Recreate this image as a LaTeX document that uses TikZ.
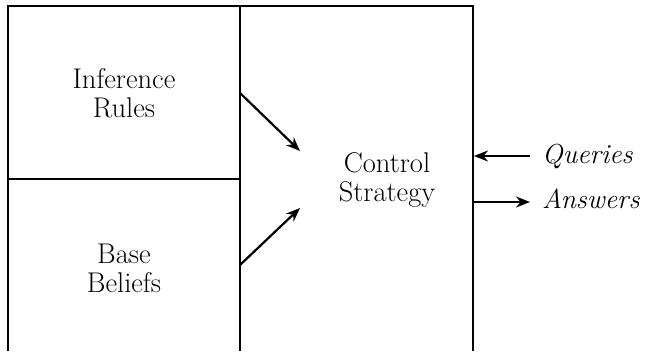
\documentclass[tikz,border=0pt]{standalone}
\usepackage{amsmath,amssymb}
\usepackage{fontspec}
\usepackage{tikz}
\usetikzlibrary{arrows.meta}
\usepackage{xcolor}

\begin{document}
\begin{tikzpicture}[x=1pt,y=-1pt,>={Stealth[length=14pt,width=11pt]},
  lbl/.style={align=center,inner sep=0pt,font=\fontsize{28.5}{29}\selectfont},
  io/.style={inner sep=0pt,anchor=base west,font=\fontsize{27.5}{29}\selectfont\itshape}]
\useasboundingbox (0,0) rectangle (647,351);
% frame, open at the bottom
\draw[line width=1.3pt] (8,351) -- (8,6) -- (473,6) -- (473,351);
\draw[line width=1.3pt] (240,6) -- (240,351);
\draw[line width=1.3pt] (8,179) -- (240,179);
\node[lbl] (rules) at (124,93) {Inference\\Rules};
\node[lbl] (beliefs) at (124,268) {Base\\Beliefs};
\node[lbl] (ctrl) at (387,180) {Control\\Strategy};
\node[io] (q) at (542,163) {Queries};
\node[io] (a) at (542,208) {Answers};
\coordinate (r0) at (240,93);
\coordinate (r1) at (300,151);
\coordinate (b0) at (240,265);
\coordinate (b1) at (300,208);
\coordinate (q0) at (530,156);
\coordinate (q1) at (474,156);
\coordinate (a0) at (474,202);
\coordinate (a1) at (530,202);
\draw[->,line width=2.2pt] (r0) -- (r1);
\draw[->,line width=2.2pt] (b0) -- (b1);
\draw[->,line width=2.2pt] (q0) -- (q1);
\draw[->,line width=2.2pt] (a0) -- (a1);
\end{tikzpicture}
\end{document}
